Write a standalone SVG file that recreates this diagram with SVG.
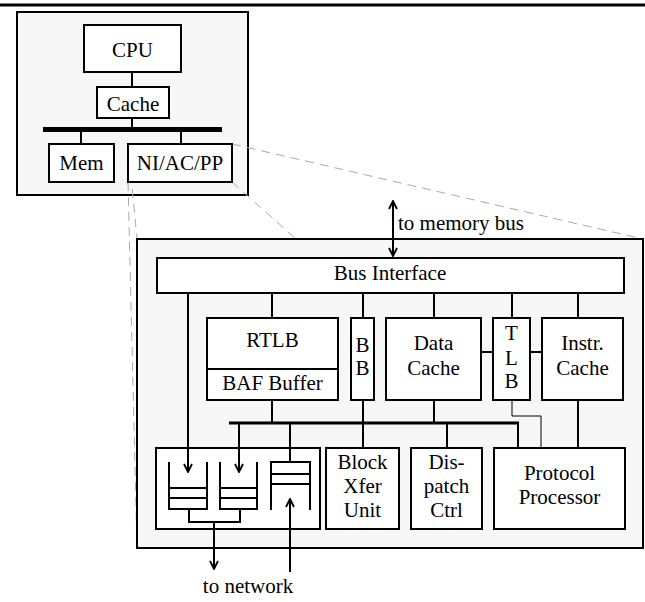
<svg xmlns="http://www.w3.org/2000/svg" width="645" height="602" viewBox="0 0 645 602">
<style>
.bx{fill:#fff;stroke:#000;stroke-width:2}
.pn{fill:#f7f7f7;stroke:#000;stroke-width:2}
.ln{fill:none;stroke:#000;stroke-width:2}
.th{fill:none;stroke:#000;stroke-width:1}
.ds{fill:none;stroke:#aaa;stroke-width:1;stroke-dasharray:9,6}
text{font-family:"Liberation Serif","Times New Roman",serif;font-size:21px;fill:#000;text-anchor:middle}
</style>
<defs>
<marker id="ah" viewBox="0 0 10 10" refX="9" refY="5" markerWidth="10" markerHeight="10" markerUnits="userSpaceOnUse" orient="auto-start-reverse">
<path d="M1,1 L9,5 L1,9" fill="none" stroke="#000" stroke-width="1.8"/>
</marker>
</defs>
<rect width="645" height="602" fill="#fff"/>
<line x1="0" y1="5" x2="645" y2="5" stroke="#000" stroke-width="3"/>

<g id="host">
<rect class="pn" x="17" y="12" width="231" height="183"/>
</g>
<g id="zoom-lines">
<line class="ds" x1="232" y1="144" x2="643" y2="239"/>
<line class="ds" x1="232" y1="182" x2="643" y2="548"/>
<line class="ds" x1="128" y1="144" x2="137" y2="239"/>
<line class="ds" x1="128" y1="182" x2="137" y2="548"/>
</g>
<g id="host-connectors">
<line class="ln" x1="132" y1="72" x2="132" y2="87"/>
<line class="ln" x1="132" y1="118" x2="132" y2="127"/>
<line x1="43" y1="129.5" x2="222" y2="129.5" stroke="#000" stroke-width="5"/>
<line class="ln" x1="81" y1="132" x2="81" y2="144"/>
<line class="ln" x1="181" y1="132" x2="181" y2="144"/>
</g>
<g id="cpu"><rect class="bx" x="84" y="25" width="97" height="47"/><text x="132.5" y="57">CPU</text></g>
<g id="cache"><rect class="bx" x="97" y="87" width="72" height="31"/><text x="133" y="111">Cache</text></g>
<g id="mem"><rect class="bx" x="49" y="144" width="65" height="38"/><text x="81.5" y="170">Mem</text></g>
<g id="ni"><rect class="bx" x="128" y="144" width="104" height="38"/><text x="180" y="170">NI/AC/PP</text></g>

<g id="ni-detail">
<rect class="pn" x="137" y="239" width="506" height="309"/>
</g>

<g id="bus-interface"><rect class="bx" x="157" y="258" width="467" height="35"/><text x="390" y="280">Bus Interface</text></g>
<text x="398" y="230" style="text-anchor:start">to memory bus</text>
<g id="rtlb"><rect class="bx" x="207" y="318" width="131" height="82"/><line class="ln" x1="207" y1="369" x2="338" y2="369"/><text x="272.5" y="347">RTLB</text><text x="272.5" y="390">BAF Buffer</text></g>
<g id="bb"><rect class="bx" x="351" y="318" width="23" height="82"/><text x="362.5" y="352">B</text><text x="362.5" y="375">B</text></g>
<g id="data-cache"><rect class="bx" x="386" y="318" width="95" height="82"/><text x="433.5" y="350">Data</text><text x="433.5" y="375">Cache</text></g>
<g id="tlb"><rect class="bx" x="493" y="318" width="37" height="82"/><text x="511.5" y="340">T</text><text x="511.5" y="365">L</text><text x="511.5" y="388">B</text></g>
<g id="instr-cache"><rect class="bx" x="542" y="318" width="81" height="82"/><text x="582.5" y="350">Instr.</text><text x="582.5" y="375">Cache</text></g>

<g id="queues">
<rect class="bx" x="156" y="448" width="164" height="81"/>
<polyline class="ln" points="169,462 169,509 207,509 207,462"/>
<line class="ln" x1="169" y1="488" x2="207" y2="488"/>
<line class="ln" x1="169" y1="498" x2="207" y2="498"/>
<polyline class="ln" points="220,462 220,509 257,509 257,462"/>
<line class="ln" x1="220" y1="488" x2="257" y2="488"/>
<line class="ln" x1="220" y1="498" x2="257" y2="498"/>
<polyline class="ln" points="271,510 271,462 310,462 310,510"/>
<line class="ln" x1="271" y1="474" x2="310" y2="474"/>
<line class="ln" x1="271" y1="484" x2="310" y2="484"/>
</g>
<g id="block-xfer"><rect class="bx" x="326" y="448" width="73" height="81"/><text x="362.5" y="469">Block</text><text x="362.5" y="493">Xfer</text><text x="362.5" y="517">Unit</text></g>
<g id="dispatch"><rect class="bx" x="411" y="448" width="71" height="81"/><text x="446.5" y="469">Dis-</text><text x="446.5" y="493">patch</text><text x="446.5" y="517">Ctrl</text></g>
<g id="protocol"><rect class="bx" x="494" y="448" width="131" height="81"/><text x="559.5" y="480">Protocol</text><text x="559.5" y="504">Processor</text></g>
<text x="248" y="593">to network</text>

<g id="connectors">
<line class="ln" x1="393" y1="201" x2="393" y2="256" marker-start="url(#ah)" marker-end="url(#ah)"/>
<line class="ln" x1="188" y1="294" x2="188" y2="472" marker-end="url(#ah)"/>
<line class="ln" x1="272" y1="294" x2="272" y2="317"/>
<line class="ln" x1="363" y1="294" x2="363" y2="317"/>
<line class="ln" x1="434" y1="294" x2="434" y2="317"/>
<line class="ln" x1="512" y1="294" x2="512" y2="317"/>
<line class="ln" x1="578" y1="294" x2="578" y2="317"/>
<line class="ln" x1="482" y1="352" x2="492" y2="352"/>
<line class="ln" x1="531" y1="352" x2="541" y2="352"/>
<line x1="229" y1="423" x2="519" y2="423" stroke="#000" stroke-width="3"/>
<line class="ln" x1="272" y1="401" x2="272" y2="423"/>
<line class="ln" x1="363" y1="401" x2="363" y2="447"/>
<line class="ln" x1="434" y1="401" x2="434" y2="423"/>
<line class="ln" x1="239" y1="423" x2="239" y2="472" marker-end="url(#ah)"/>
<line class="ln" x1="290" y1="423" x2="290" y2="462"/>
<line class="ln" x1="447" y1="423" x2="447" y2="447"/>
<line class="ln" x1="518" y1="423" x2="518" y2="447"/>
<polyline class="th" points="512,401 512,416 541,416 541,447"/>
<line class="ln" x1="578" y1="401" x2="578" y2="447"/>
<polyline class="ln" points="189,509 189,522 240,522 240,509"/>
<line class="ln" x1="214" y1="522" x2="214" y2="569" marker-end="url(#ah)"/>
<line class="ln" x1="290" y1="572" x2="290" y2="499" marker-end="url(#ah)"/>
</g>
</svg>
